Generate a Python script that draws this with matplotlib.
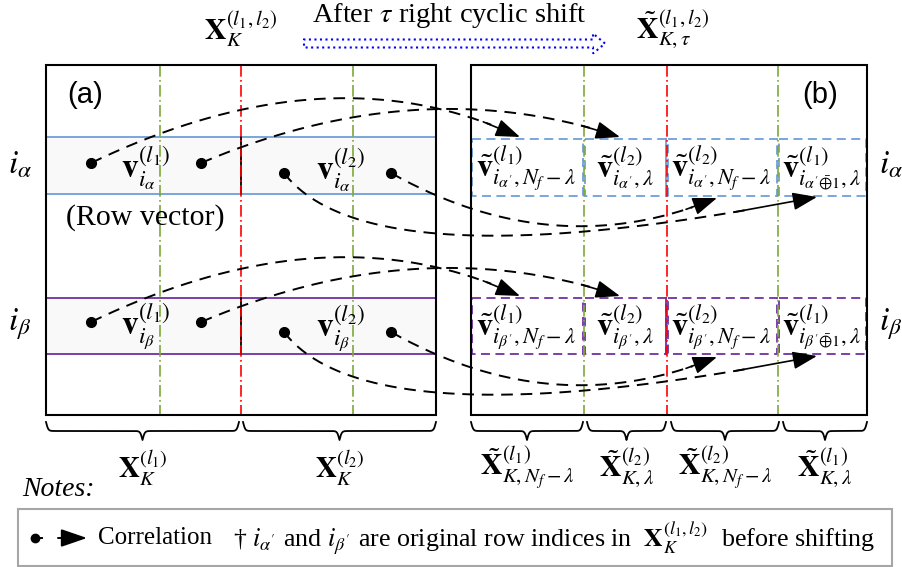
import numpy as np
import matplotlib
matplotlib.use("Agg")
import matplotlib.pyplot as plt
import matplotlib.patches as mpatches

plt.rcParams['font.family'] = ['Liberation Serif', 'DejaVu Serif']
plt.rcParams['mathtext.fontset'] = 'stix'

# layout of the two matrices (pixel space)
box_top, box_bottom = 65, 415
left_cols = [46, 160, 241, 353, 436]
right_cols = [471, 584, 667, 778, 867]
col_line_colors = ['#7fa83a', '#ff0000', '#7fa83a']
left_bands = [(137, 194), (298, 354)]
right_bands = [(139, 196), (298, 354)]
band_colors = ['#6f9fd8', '#7030a0']

# row labels
row_names = [r'$i_\alpha$', r'$i_\beta$']
row_y = [163, 322]

# block vectors, (a)
left_vec_labels = [
    [r'$\mathbf{v}_{i_\alpha}^{(l_1)}$', r'$\mathbf{v}_{i_\alpha}^{(l_2)}$'],
    [r'$\mathbf{v}_{i_\beta}^{(l_1)}$', r'$\mathbf{v}_{i_\beta}^{(l_2)}$'],
]
left_vec_x = [146, 341]
left_vec_dy = [5, 7]

# block vectors, (b)
right_vec_labels = [
    [r'$\tilde{\mathbf{v}}_{i_{\alpha^{\prime}},N_f-\lambda}^{(l_1)}$',
     r'$\tilde{\mathbf{v}}_{i_{\alpha^{\prime}},\lambda}^{(l_2)}$',
     r'$\tilde{\mathbf{v}}_{i_{\alpha^{\prime}},N_f-\lambda}^{(l_2)}$',
     r'$\tilde{\mathbf{v}}_{i_{\alpha^{\prime}\bar{\oplus}1},\lambda}^{(l_1)}$'],
    [r'$\tilde{\mathbf{v}}_{i_{\beta^{\prime}},N_f-\lambda}^{(l_1)}$',
     r'$\tilde{\mathbf{v}}_{i_{\beta^{\prime}},\lambda}^{(l_2)}$',
     r'$\tilde{\mathbf{v}}_{i_{\beta^{\prime}},N_f-\lambda}^{(l_2)}$',
     r'$\tilde{\mathbf{v}}_{i_{\beta^{\prime}\bar{\oplus}1},\lambda}^{(l_1)}$'],
]
right_vec_x = [476, 596, 671, 782]

# correlation arrows: start, control, end (row alpha); row beta is shifted down
arrow_start = [(91, 163), (201, 163), (391, 173), (284, 173)]
arrow_ctrl = [(330, 48), (420, 70), (555, 265), (370, 285)]
arrow_end = [(520, 137), (620, 137), (717, 198), (817, 197)]
beta_shift = 159

# braces below
left_braces = [(46, 239), (243, 436)]
left_brace_labels = [r'$\mathbf{X}_K^{(l_1)}$', r'$\mathbf{X}_K^{(l_2)}$']
right_braces = [(471, 583), (587, 666), (671, 779), (783, 867)]
right_brace_labels = [r'$\tilde{\mathbf{X}}_{K,N_f-\lambda}^{(l_1)}$',
                      r'$\tilde{\mathbf{X}}_{K,\lambda}^{(l_2)}$',
                      r'$\tilde{\mathbf{X}}_{K,N_f-\lambda}^{(l_2)}$',
                      r'$\tilde{\mathbf{X}}_{K,\lambda}^{(l_1)}$']

fig = plt.figure(figsize=(9.03, 5.67), dpi=100)
ax = fig.add_axes([0, 0, 1, 1])
ax.set_xlim(0, 903)
ax.set_ylim(567, 0)
ax.axis('off')

dashdot = (0, (7, 2, 1, 2))
head = '-|>,head_length=1.5,head_width=0.55'

# row bands (a)
for (y0, y1), c in zip(left_bands, band_colors):
    ax.add_patch(mpatches.Rectangle((left_cols[0], y0), left_cols[-1] - left_cols[0], y1 - y0,
                                    facecolor='#f9f9f9', edgecolor='none', zorder=1))
    ax.plot([left_cols[0], left_cols[-1]], [y0, y0], color=c, lw=1.3, zorder=2)
    ax.plot([left_cols[0], left_cols[-1]], [y1, y1], color=c, lw=1.3, zorder=2)
    ax.plot([left_cols[2], left_cols[2]], [y0, y1], color='k', lw=1.3, zorder=2)

# row bands (b): dashed cells
for (y0, y1), c in zip(right_bands, band_colors):
    for x0, x1 in zip(right_cols[:-1], right_cols[1:]):
        ax.add_patch(mpatches.Rectangle((x0 + 1, y0), x1 - x0 - 2, y1 - y0, facecolor='none',
                                        edgecolor=c, lw=1.3, ls=(0, (5, 3)), zorder=2))
    ax.plot([right_cols[2] - 1, right_cols[2] - 1], [y0, y1], color=c, lw=1.3, zorder=2)

# column separators
for cols in (left_cols, right_cols):
    for x, c in zip(cols[1:-1], col_line_colors):
        ax.plot([x, x], [box_top, box_bottom], color=c, lw=1.2, ls=dashdot, zorder=3)
    ax.add_patch(mpatches.Rectangle((cols[0], box_top), cols[-1] - cols[0], box_bottom - box_top,
                                    facecolor='none', edgecolor='k', lw=1.5, zorder=4))

# vector labels
for r in range(2):
    for x, lab, dy in zip(left_vec_x, left_vec_labels[r], left_vec_dy):
        ax.text(x, row_y[r] + dy, lab, fontsize=24, ha='center', va='center', zorder=5)
    for x, lab in zip(right_vec_x, right_vec_labels[r]):
        ax.text(x, row_y[r] + 5, lab, fontsize=23, ha='left', va='center', zorder=5)
    ax.text(20, row_y[r] + 2, row_names[r], fontsize=24, ha='center', va='center')
    ax.text(891, row_y[r] + 2, row_names[r], fontsize=24, ha='center', va='center')

ax.text(66, 218, '(Row vector)', fontsize=21.5, ha='left', va='center')
ax.text(67, 95, '(a)', fontsize=21, ha='left', va='center', family='Liberation Sans')
ax.text(802, 95, '(b)', fontsize=21, ha='left', va='center', family='Liberation Sans')


def bezier(p0, p1, p2, n=200):
    t = np.linspace(0, 1, n)[:, None]
    return (1 - t) ** 2 * np.array(p0) + 2 * (1 - t) * t * np.array(p1) + t ** 2 * np.array(p2)


def corr_arrow(p0, pc, p1):
    pts = bezier(p0, pc, p1)
    ax.plot(pts[:185, 0], pts[:185, 1], color='k', lw=1.4, ls=(0, (6, 4)), zorder=6)
    ax.plot(*p0, 'o', color='k', ms=7, zorder=6)
    ax.annotate('', xy=p1, xytext=tuple(pts[180]),
                arrowprops=dict(arrowstyle=head, color='k', lw=1.2, shrinkA=0, shrinkB=0),
                zorder=6)


for s in (0, beta_shift):
    for p0, pc, p1 in zip(arrow_start, arrow_ctrl, arrow_end):
        corr_arrow((p0[0], p0[1] + s), (pc[0], pc[1] + s), (p1[0], p1[1] + s))


def brace(x0, x1, y, h=18):
    half = np.linspace(0, (x1 - x0) / 2, 150)
    beta = 0.9
    yh = 1 / (1 + np.exp(-beta * (half - half[0]))) + 1 / (1 + np.exp(-beta * (half - half[-1])))
    yy = np.concatenate([yh, yh[-2::-1]])
    yy = y + (yy - yy.min()) / (yy.max() - yy.min()) * h
    xx = np.linspace(x0, x1, len(yy))
    ax.plot(xx, yy, color='k', lw=1.3)


for (x0, x1), lab in zip(left_braces, left_brace_labels):
    brace(x0, x1, 422)
    ax.text((x0 + x1) / 2, 468, lab, fontsize=21, ha='center', va='center')
for (x0, x1), lab in zip(right_braces, right_brace_labels):
    brace(x0, x1, 422)
    ax.text((x0 + x1) / 2, 468, lab, fontsize=21.5, ha='center', va='center')

# title row
ax.text(241, 29, r'$\mathbf{X}_K^{(l_1,l_2)}$', fontsize=21.5, ha='center', va='center')
ax.text(673, 30, r'$\tilde{\mathbf{X}}_{K,\tau}^{(l_1,l_2)}$', fontsize=21.5, ha='center', va='center')
ax.text(449, 16, r'After $\tau$ right cyclic shift', fontsize=20.5, ha='center', va='center')
ax.add_patch(mpatches.FancyArrow(304, 43.5, 301, 0, width=8, head_width=20, head_length=12,
                                 length_includes_head=True, fill=False, edgecolor='#0000ff',
                                 lw=1.5, ls=':'))

# notes
ax.text(22, 490, 'Notes:', fontsize=20, style='italic', ha='left', va='center')
ax.add_patch(mpatches.Rectangle((18, 509), 874, 57, facecolor='none', edgecolor='#a6a6a6', lw=1.5))
ax.plot([35, 42], [538, 538], color='k', lw=1.4)
ax.plot(35, 538, 'o', color='k', ms=6)
ax.annotate('', xy=(87, 538), xytext=(58, 538),
            arrowprops=dict(arrowstyle='-|>,head_length=1.6,head_width=0.55',
                            color='k', lw=1.4, shrinkA=0, shrinkB=0))
ax.text(98, 538, 'Correlation', fontsize=18, ha='left', va='center')
ax.text(233, 538, r'† $i_{\alpha^{\prime}}$ and $i_{\beta^{\prime}}$ are original row indices in  '
                  r'$\mathbf{X}_K^{(l_1,l_2)}$  before shifting',
        fontsize=18.7, ha='left', va='center')

fig.savefig('out.png', dpi=100)
